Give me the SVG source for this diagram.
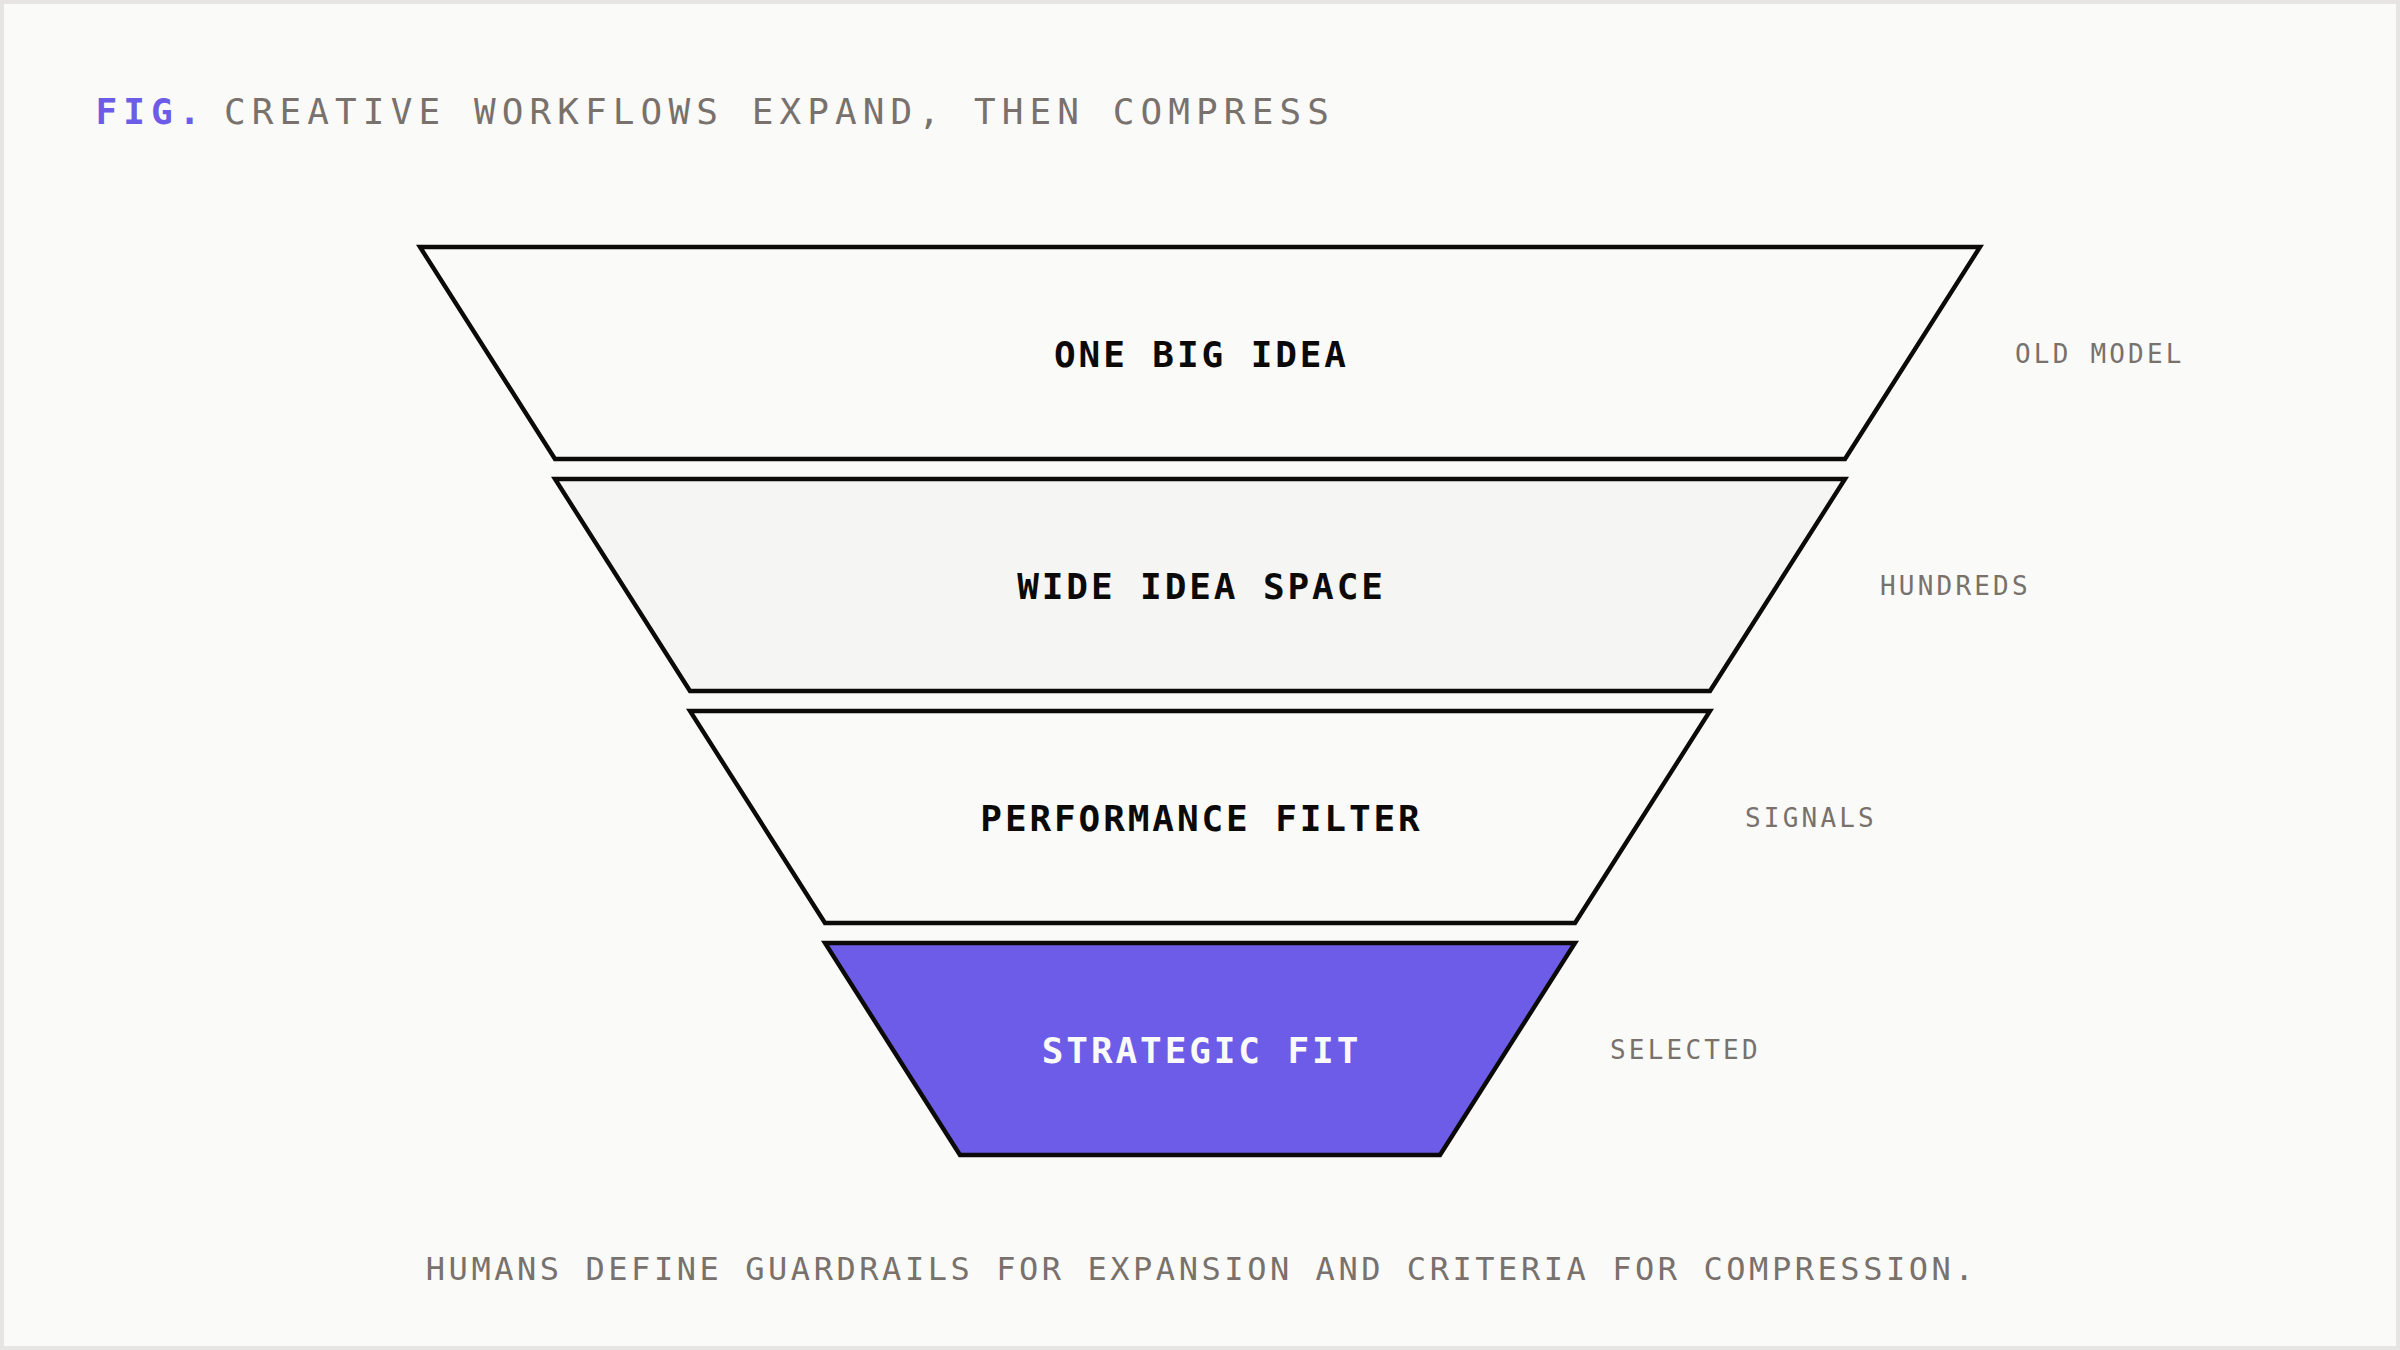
<svg xmlns="http://www.w3.org/2000/svg" width="2400" height="1350" viewBox="0 0 2400 1350">
  <style>
    .mono { font-family: "DejaVu Sans Mono", "Liberation Mono", monospace; }
    .title { font-size: 36px; letter-spacing: 6.1px; fill: #78716c; }
    .fig { font-weight: bold; fill: #6c5ce7; }
    .stage { stroke: #0c0a09; stroke-width: 4.4; stroke-linejoin: miter; }
    .lbl { font-size: 36px; font-weight: bold; letter-spacing: 2.9px; fill: #0c0a09; text-anchor: middle; }
    .side { font-size: 26px; letter-spacing: 3.2px; fill: #78716c; }
    .foot { font-size: 32px; letter-spacing: 3.55px; fill: #78716c; text-anchor: middle; }
  </style>
  <rect x="2" y="2" width="2396" height="1346" fill="#fafaf9" stroke="#e7e5e3" stroke-width="4"/>

  <g id="title" class="mono">
    <text class="title fig" x="95.5" y="124">FIG.</text>
    <text class="title" x="224" y="124">CREATIVE WORKFLOWS EXPAND, THEN COMPRESS</text>
  </g>

  <g id="connectors"></g>

  <g id="stage-one-big-idea">
    <polygon class="stage" points="420,247 1980,247 1845,459 555,459" fill="#fafaf9"/>
    <text class="mono lbl" x="1201.5" y="366.5">ONE BIG IDEA</text>
    <text class="mono side" x="2015" y="363">OLD MODEL</text>
  </g>

  <g id="stage-wide-idea-space">
    <polygon class="stage" points="555,479 1845,479 1710,691 690,691" fill="#f5f5f4"/>
    <text class="mono lbl" x="1201.5" y="598.5">WIDE IDEA SPACE</text>
    <text class="mono side" x="1880" y="595">HUNDREDS</text>
  </g>

  <g id="stage-performance-filter">
    <polygon class="stage" points="690,711 1710,711 1575,923 825,923" fill="#fafaf9"/>
    <text class="mono lbl" x="1201.5" y="830.5">PERFORMANCE FILTER</text>
    <text class="mono side" x="1745" y="827">SIGNALS</text>
  </g>

  <g id="stage-strategic-fit">
    <polygon class="stage" points="825,943 1575,943 1440,1155 960,1155" fill="#6c5ce7"/>
    <text class="mono lbl" x="1201.5" y="1062.5" style="fill:#fafaf9">STRATEGIC FIT</text>
    <text class="mono side" x="1610" y="1059">SELECTED</text>
  </g>

  <g id="footer">
    <text class="mono foot" x="1201.5" y="1280">HUMANS DEFINE GUARDRAILS FOR EXPANSION AND CRITERIA FOR COMPRESSION.</text>
  </g>
</svg>
